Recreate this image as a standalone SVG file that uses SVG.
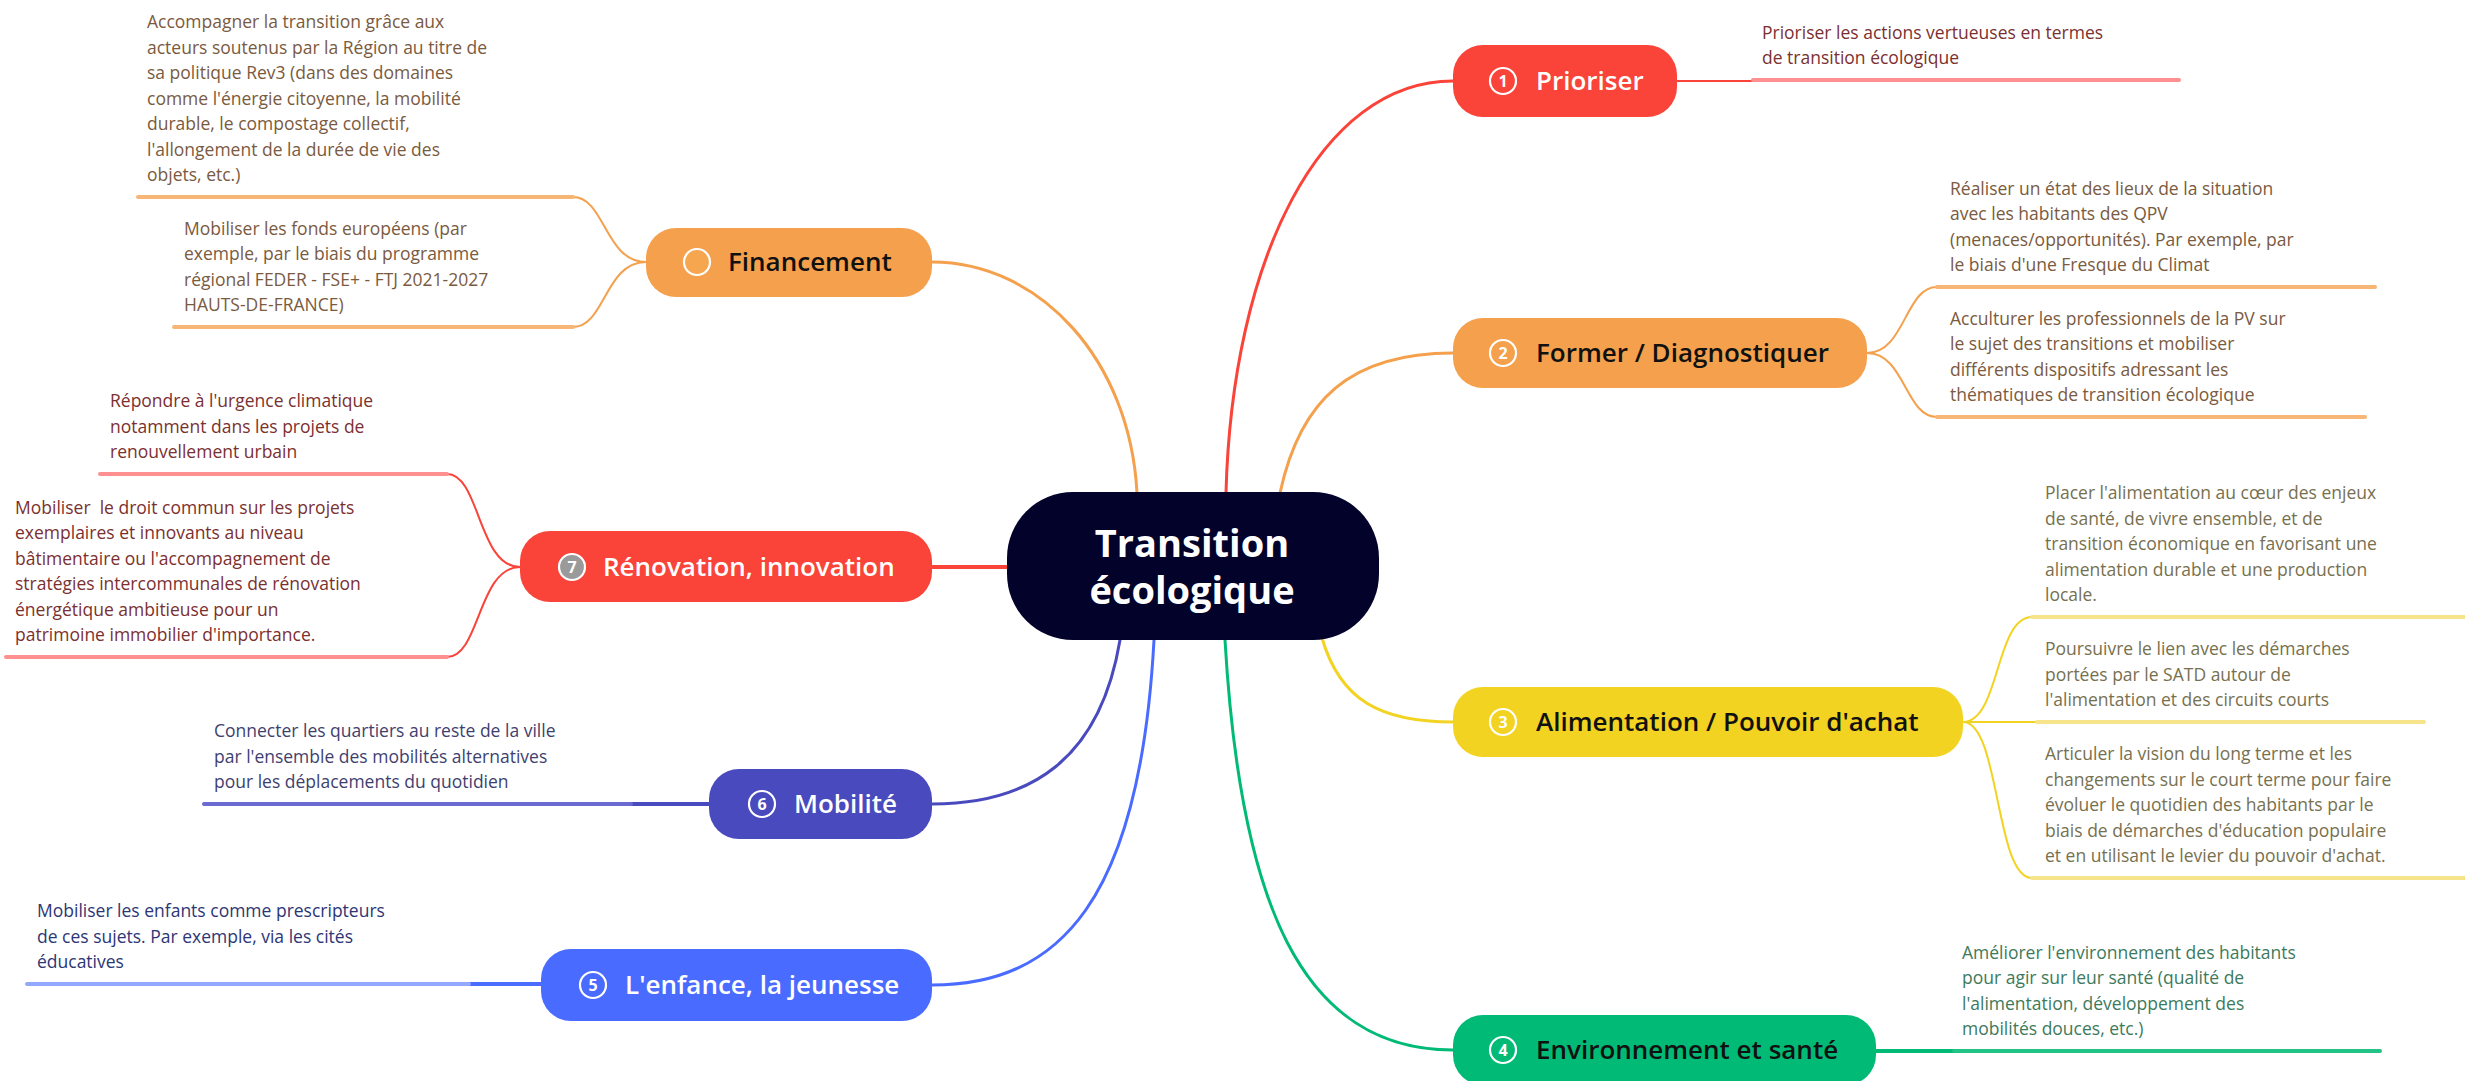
<svg xmlns="http://www.w3.org/2000/svg" width="2465" height="1081" viewBox="0 0 2465 1081">
<style>
.lbl{font-family:"Open Sans","Noto Sans","DejaVu Sans",sans-serif;font-size:26px;font-weight:600}
.num{font-family:"Open Sans","Noto Sans","DejaVu Sans",sans-serif;font-size:16px;font-weight:700;fill:#fff;text-anchor:middle}
.leaf{font-family:"Open Sans","Noto Sans","DejaVu Sans",sans-serif;font-size:17.5px}
.ctr{font-family:"Open Sans","Noto Sans","DejaVu Sans",sans-serif;font-size:38px;font-weight:700;fill:#fff;text-anchor:middle}
.ic{stroke:#fff;stroke-width:2.2;fill:none}
.c{fill:none;stroke-linecap:round}
.m{stroke-width:3}
.s{stroke-width:2}
.u{stroke-width:4}
.red{stroke:#FA4339}.ora{stroke:#F4A04C}.yel{stroke:#F3D321}.grn{stroke:#00BA76}.ind{stroke:#4A4ABF}.blu{stroke:#4A6BFF}
.lred{stroke:#FF9090}.lora{stroke:#F8B676}.lyel{stroke:#F6E38A}.lgrn{stroke:#22C384}.lind{stroke:#6A6AD0}.lblu{stroke:#93A8FF}
</style>

<g id="connectors">
  <path class="c m ora" d="M932,262 C1040,262 1130,360 1137,493"/>
  <path class="c m red" d="M1226,493 C1232,260 1320,81 1453,81"/>
  <path class="c m ora" d="M1280,493 C1300,400 1350,353 1453,353"/>
  <path class="c m yel" d="M1322,638 C1340,700 1380,722 1453,722"/>
  <path class="c m grn" d="M1225,640 C1240,900 1300,1050 1453,1050"/>
  <path class="c m blu" d="M1154,640 C1140,900 1060,985 932,985"/>
  <path class="c m ind" d="M1120,640 C1100,760 1030,804 932,804"/>
  <path class="c u red" d="M932,567 L1008,567"/>

  <path class="c s red" d="M1677,81 L1753,81"/>
  <path class="c u lred" d="M1753,80 L2179,80"/>
  <path class="c s ora" d="M1867,353 C1905,353 1905,287 1937,287"/>
  <path class="c s ora" d="M1867,353 C1905,353 1905,417 1937,417"/>
  <path class="c u lora" d="M1937,287 L2375,287"/>
  <path class="c u lora" d="M1937,417 L2365,417"/>
  <path class="c s yel" d="M1963,722 C2000,722 1995,617 2032,617"/>
  <path class="c s yel" d="M1963,722 C2000,722 1995,878 2032,878"/>
  <path class="c s yel" d="M1963,722 L2037,722"/>
  <path class="c u lyel" d="M2032,617 L2465,617"/>
  <path class="c u lyel" d="M2037,722 L2424,722"/>
  <path class="c u lyel" d="M2032,878 L2465,878"/>
  <path class="c u grn" d="M1876,1051 L1954,1051"/>
  <path class="c u lgrn" d="M1954,1051 L2380,1051"/>
  <path class="c s ora" d="M646,262 C605,262 605,197 573,197"/>
  <path class="c s ora" d="M646,262 C605,262 605,327 573,327"/>
  <path class="c u lora" d="M138,197 L573,197"/>
  <path class="c u lora" d="M174,327 L573,327"/>
  <path class="c s red" d="M520,567 C478,567 480,474 447,474"/>
  <path class="c s red" d="M520,567 C478,567 480,657 447,657"/>
  <path class="c u lred" d="M100,474 L447,474"/>
  <path class="c u lred" d="M6,657 L447,657"/>
  <path class="c u ind" d="M709,804 L631,804"/>
  <path class="c u lind" d="M631,804 L204,804"/>
  <path class="c u blu" d="M541,984 L469,984"/>
  <path class="c u lblu" d="M469,984 L27,984"/>
</g>

<g id="center">
  <rect x="1007" y="492" width="372" height="148" rx="66" fill="#02022B"/>
  <text class="ctr" x="1192" y="557">Transition</text>
  <text class="ctr" x="1192" y="604">écologique</text>
</g>

<g id="n-prioriser">
  <rect x="1453" y="45" width="224" height="72" rx="30" fill="#FA4339"/>
  <circle class="ic" cx="1503" cy="81" r="13"/>
  <text class="num" x="1503" y="87">1</text>
  <text class="lbl" x="1536" y="90" fill="#fff">Prioriser</text>
</g>
<g id="n-former">
  <rect x="1453" y="318" width="414" height="70" rx="30" fill="#F4A04C"/>
  <circle class="ic" cx="1503" cy="353" r="13"/>
  <text class="num" x="1503" y="359">2</text>
  <text class="lbl" x="1536" y="362" fill="#111">Former / Diagnostiquer</text>
</g>
<g id="n-alimentation">
  <rect x="1453" y="687" width="510" height="70" rx="30" fill="#F3D321"/>
  <circle class="ic" cx="1503" cy="722" r="13"/>
  <text class="num" x="1503" y="728">3</text>
  <text class="lbl" x="1536" y="731" fill="#111">Alimentation / Pouvoir d'achat</text>
</g>
<g id="n-environnement">
  <rect x="1453" y="1015" width="423" height="70" rx="30" fill="#00BA76"/>
  <circle class="ic" cx="1503" cy="1050" r="13"/>
  <text class="num" x="1503" y="1056">4</text>
  <text class="lbl" x="1536" y="1059" fill="#111">Environnement et santé</text>
</g>
<g id="n-enfance">
  <rect x="541" y="949" width="391" height="72" rx="30" fill="#4A6BFF"/>
  <circle class="ic" cx="593" cy="985" r="13"/>
  <text class="num" x="593" y="991">5</text>
  <text class="lbl" x="625" y="994" fill="#fff">L'enfance, la jeunesse</text>
</g>
<g id="n-mobilite">
  <rect x="709" y="769" width="223" height="70" rx="30" fill="#4A4ABF"/>
  <circle class="ic" cx="762" cy="804" r="13"/>
  <text class="num" x="762" y="810">6</text>
  <text class="lbl" x="794" y="813" fill="#fff">Mobilité</text>
</g>
<g id="n-renovation">
  <rect x="520" y="531" width="412" height="71" rx="30" fill="#FA4339"/>
  <circle cx="572" cy="567" r="13" fill="#9A9A9A" stroke="#fff" stroke-width="2.2"/>
  <text class="num" x="572" y="573">7</text>
  <text class="lbl" x="603" y="576" fill="#fff">Rénovation, innovation</text>
</g>
<g id="n-financement">
  <rect x="646" y="228" width="286" height="69" rx="30" fill="#F4A04C"/>
  <circle cx="697" cy="262" r="13" fill="#F6A64E" stroke="#fff" stroke-width="2.2"/>
  <text class="lbl" x="728" y="271" fill="#111">Financement</text>
</g>

<g id="leaf-prioriser" class="leaf" fill="#7B3030">
  <text x="1762" y="38.5">Prioriser les actions vertueuses en termes</text>
  <text x="1762" y="64">de transition écologique</text>
</g>
<g id="leaf-former-1" class="leaf" fill="#7A5A40">
  <text x="1950" y="194.5">Réaliser un état des lieux de la situation</text>
  <text x="1950" y="220">avec les habitants des QPV</text>
  <text x="1950" y="245.5">(menaces/opportunités). Par exemple, par</text>
  <text x="1950" y="271">le biais d'une Fresque du Climat</text>
</g>
<g id="leaf-former-2" class="leaf" fill="#7A5A40">
  <text x="1950" y="324.5">Acculturer les professionnels de la PV sur</text>
  <text x="1950" y="350">le sujet des transitions et mobiliser</text>
  <text x="1950" y="375.5">différents dispositifs adressant les</text>
  <text x="1950" y="401">thématiques de transition écologique</text>
</g>
<g id="leaf-alim-1" class="leaf" fill="#77704F">
  <text x="2045" y="499">Placer l'alimentation au cœur des enjeux</text>
  <text x="2045" y="524.5">de santé, de vivre ensemble, et de</text>
  <text x="2045" y="550">transition économique en favorisant une</text>
  <text x="2045" y="575.5">alimentation durable et une production</text>
  <text x="2045" y="601">locale.</text>
</g>
<g id="leaf-alim-2" class="leaf" fill="#77704F">
  <text x="2045" y="655">Poursuivre le lien avec les démarches</text>
  <text x="2045" y="680.5">portées par le SATD autour de</text>
  <text x="2045" y="706">l'alimentation et des circuits courts</text>
</g>
<g id="leaf-alim-3" class="leaf" fill="#77704F">
  <text x="2045" y="760">Articuler la vision du long terme et les</text>
  <text x="2045" y="785.5">changements sur le court terme pour faire</text>
  <text x="2045" y="811">évoluer le quotidien des habitants par le</text>
  <text x="2045" y="836.5">biais de démarches d'éducation populaire</text>
  <text x="2045" y="862">et en utilisant le levier du pouvoir d'achat.</text>
</g>
<g id="leaf-env" class="leaf" fill="#3D7A5C">
  <text x="1962" y="958.5">Améliorer l'environnement des habitants</text>
  <text x="1962" y="984">pour agir sur leur santé (qualité de</text>
  <text x="1962" y="1009.5">l'alimentation, développement des</text>
  <text x="1962" y="1035">mobilités douces, etc.)</text>
</g>
<g id="leaf-fin-1" class="leaf" fill="#7A5A40">
  <text x="147" y="28">Accompagner la transition grâce aux</text>
  <text x="147" y="53.5">acteurs soutenus par la Région au titre de</text>
  <text x="147" y="79">sa politique Rev3 (dans des domaines</text>
  <text x="147" y="104.5">comme l'énergie citoyenne, la mobilité</text>
  <text x="147" y="130">durable, le compostage collectif,</text>
  <text x="147" y="155.5">l'allongement de la durée de vie des</text>
  <text x="147" y="181">objets, etc.)</text>
</g>
<g id="leaf-fin-2" class="leaf" fill="#7A5A40">
  <text x="184" y="234.5">Mobiliser les fonds européens (par</text>
  <text x="184" y="260">exemple, par le biais du programme</text>
  <text x="184" y="285.5">régional FEDER - FSE+ - FTJ 2021-2027</text>
  <text x="184" y="311">HAUTS-DE-FRANCE)</text>
</g>
<g id="leaf-ren-1" class="leaf" fill="#7B3030">
  <text x="110" y="407">Répondre à l'urgence climatique</text>
  <text x="110" y="432.5">notamment dans les projets de</text>
  <text x="110" y="458">renouvellement urbain</text>
</g>
<g id="leaf-ren-2" class="leaf" fill="#7B3030">
  <text x="15" y="513.5" xml:space="preserve">Mobiliser  le droit commun sur les projets</text>
  <text x="15" y="539">exemplaires et innovants au niveau</text>
  <text x="15" y="564.5">bâtimentaire ou l'accompagnement de</text>
  <text x="15" y="590">stratégies intercommunales de rénovation</text>
  <text x="15" y="615.5">énergétique ambitieuse pour un</text>
  <text x="15" y="641">patrimoine immobilier d'importance.</text>
</g>
<g id="leaf-mob" class="leaf" fill="#3F3F6F">
  <text x="214" y="737">Connecter les quartiers au reste de la ville</text>
  <text x="214" y="762.5">par l'ensemble des mobilités alternatives</text>
  <text x="214" y="788">pour les déplacements du quotidien</text>
</g>
<g id="leaf-enf" class="leaf" fill="#2D3675">
  <text x="37" y="917">Mobiliser les enfants comme prescripteurs</text>
  <text x="37" y="942.5">de ces sujets. Par exemple, via les cités</text>
  <text x="37" y="968">éducatives</text>
</g>
</svg>
